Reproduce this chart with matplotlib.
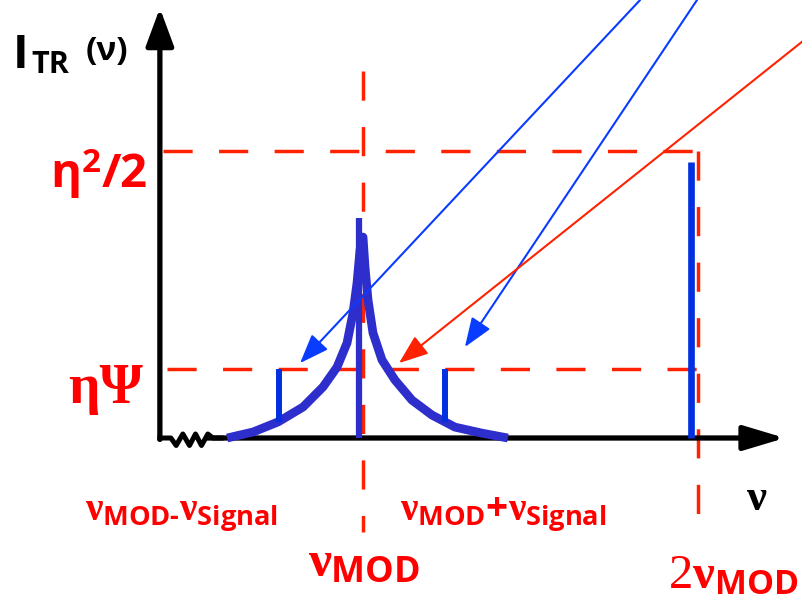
import matplotlib
matplotlib.use('Agg')
import matplotlib.pyplot as plt
import matplotlib.transforms as mtransforms
import numpy as np

plt.rcParams['mathtext.fontset'] = 'custom'
plt.rcParams['mathtext.rm'] = 'Open Sans:bold'
plt.rcParams['mathtext.bf'] = 'Open Sans:bold'
plt.rcParams['mathtext.it'] = 'Liberation Serif:bold'
plt.rcParams['mathtext.cal'] = 'Liberation Serif'

# frequency axis: nu_MOD = 1, intensity axis: eta^2/2 = 1
nu_mod = 1.0
nu_signal = 0.25
nu_axis0 = 0.393

level_eta2 = 1.0      # eta^2 / 2
level_etapsi = 0.24   # eta * Psi
carrier_peak = 0.767
harmonic_peak = 0.962

# broadened line around nu_MOD
spectrum_nu = [0.595, 0.673, 0.748, 0.823, 0.883, 0.925, 0.955, 0.973, 0.985,
               0.994, 1.000, 1.003, 1.009, 1.018, 1.033, 1.060, 1.099, 1.150,
               1.210, 1.279, 1.360, 1.438]
spectrum_I = [0.000, 0.021, 0.056, 0.108, 0.178, 0.247, 0.331, 0.436, 0.540,
              0.655, 0.700, 0.700, 0.596, 0.481, 0.366, 0.272, 0.202, 0.132,
              0.080, 0.038, 0.017, 0.000]

sidebands = [nu_mod - nu_signal, nu_mod + nu_signal]

RED = '#FF2200'
TXT_RED = '#FF0000'
CURVE = '#2E2ECC'
LINE = '#0030E0'
ARROW_BLUE = '#0A3CFF'

fig = plt.figure(figsize=(8.03, 6.01), dpi=100)
ax = fig.add_axes([0, 0, 1, 1])
ax.set_xlim(-0.0871, 2.3243)
ax.set_ylim(-0.5679, 1.5261)
ax.axis('off')

# dashed guide lines
dash_kw = dict(color=RED, lw=2.5, dashes=[8.4, 7.6], zorder=1)
ax.plot([nu_axis0 + 0.01, 2 * nu_mod + 0.01], [level_eta2, level_eta2], **dash_kw)
ax.plot([nu_axis0 + 0.02, 2 * nu_mod + 0.01], [level_etapsi, level_etapsi], **dash_kw)
ax.plot([nu_mod + 0.003, nu_mod + 0.003], [1.279, -0.328], **dash_kw)
ax.plot([2 * nu_mod + 0.01, 2 * nu_mod + 0.01], [level_eta2, -0.328], **dash_kw)

# axes with arrow heads
ax.annotate('', xy=(nu_axis0, 1.498), xytext=(nu_axis0, -0.005),
            arrowprops=dict(arrowstyle='-|>,head_length=2.3,head_width=0.85',
                            lw=3.8, color='k', shrinkA=0, shrinkB=0,
                            mutation_scale=10), zorder=3)
ax.annotate('', xy=(2.270, 0.0), xytext=(0.535, 0.0),
            arrowprops=dict(arrowstyle='-|>,head_length=2.5,head_width=0.75',
                            lw=3.8, color='k', shrinkA=0, shrinkB=0,
                            mutation_scale=10), zorder=3)

# axis break
zig_nu = [nu_axis0, 0.426, 0.442, 0.462, 0.482, 0.500, 0.518, 0.537, 0.552, 0.577]
zig_I = [0.0, 0.0, -0.026, 0.014, -0.026, 0.014, -0.026, 0.014, 0.0, 0.0]
ax.plot(zig_nu, zig_I, color='k', lw=3.6, solid_joinstyle='round', zorder=3)

# spectrum
ax.plot(spectrum_nu, spectrum_I, color=CURVE, lw=6.3, solid_capstyle='butt', zorder=4)
shift = mtransforms.offset_copy(ax.transData, fig=fig, x=-3, y=0, units='dots')
ax.plot([nu_mod, nu_mod], [0, carrier_peak], color=CURVE, lw=4.5,
        solid_capstyle='butt', transform=shift, zorder=5)
shift2 = mtransforms.offset_copy(ax.transData, fig=fig, x=-4, y=0, units='dots')
ax.plot([2 * nu_mod, 2 * nu_mod], [0, harmonic_peak], color=LINE, lw=4.8,
        solid_capstyle='butt', transform=shift2, zorder=5)
for sb in sidebands:
    base = np.interp(sb, spectrum_nu, spectrum_I)
    ax.plot([sb, sb], [base, level_etapsi], color=LINE, lw=4.3,
            solid_capstyle='butt', zorder=5)

# pointer arrows
def pointer(tip, tail, color):
    ax.annotate('', xy=tip, xytext=tail, annotation_clip=False,
                arrowprops=dict(arrowstyle='-|>,head_length=0.9,head_width=0.34',
                                lw=1.5, color=color, shrinkA=0, shrinkB=0,
                                mutation_scale=20), zorder=6)

pointer((0.814, 0.261), (1.835, 1.526), ARROW_BLUE)
pointer((1.309, 0.317), (2.006, 1.526), ARROW_BLUE)
pointer((1.111, 0.261), (2.324, 1.383), RED)

# labels
def label(x, y, s, size, color=TXT_RED, **kw):
    fig.text(x / 803, 1 - y / 601, s, fontsize=size, color=color,
             va='baseline', ha='left', **kw)

sans = ['Open Sans', 'DejaVu Sans']
serif = ['Liberation Serif', 'DejaVu Serif']
label(13, 68, 'I', 34, color='k', family=sans, weight='bold')
label(31, 73, 'TR', 22, color='k', family=sans, weight='bold')
label(86, 60, '(ν)', 24, color='k', family=sans, weight='bold')
label(50, 188, r'$\mathrm{\eta}^{\mathrm{2}}\mathrm{/2}$', 34)
label(68, 403, 'ηΨ', 40, family=serif, weight='bold')
label(85, 520, r'$\nu_{\mathrm{MOD}\text{-}}\nu_{\mathrm{Signal}}$', 28)
label(400, 520, r'$\nu_{\mathrm{MOD}}\text{+}\nu_{\mathrm{Signal}}$', 28)
label(308, 576, r'$\nu_{\mathrm{MOD}}$', 37)
label(668, 588, r'$\mathcal{2}\nu_{\mathrm{MOD}}$', 35)
label(746, 510, r'$\nu$', 32, color='k')

fig.savefig('out.png', dpi=100)
